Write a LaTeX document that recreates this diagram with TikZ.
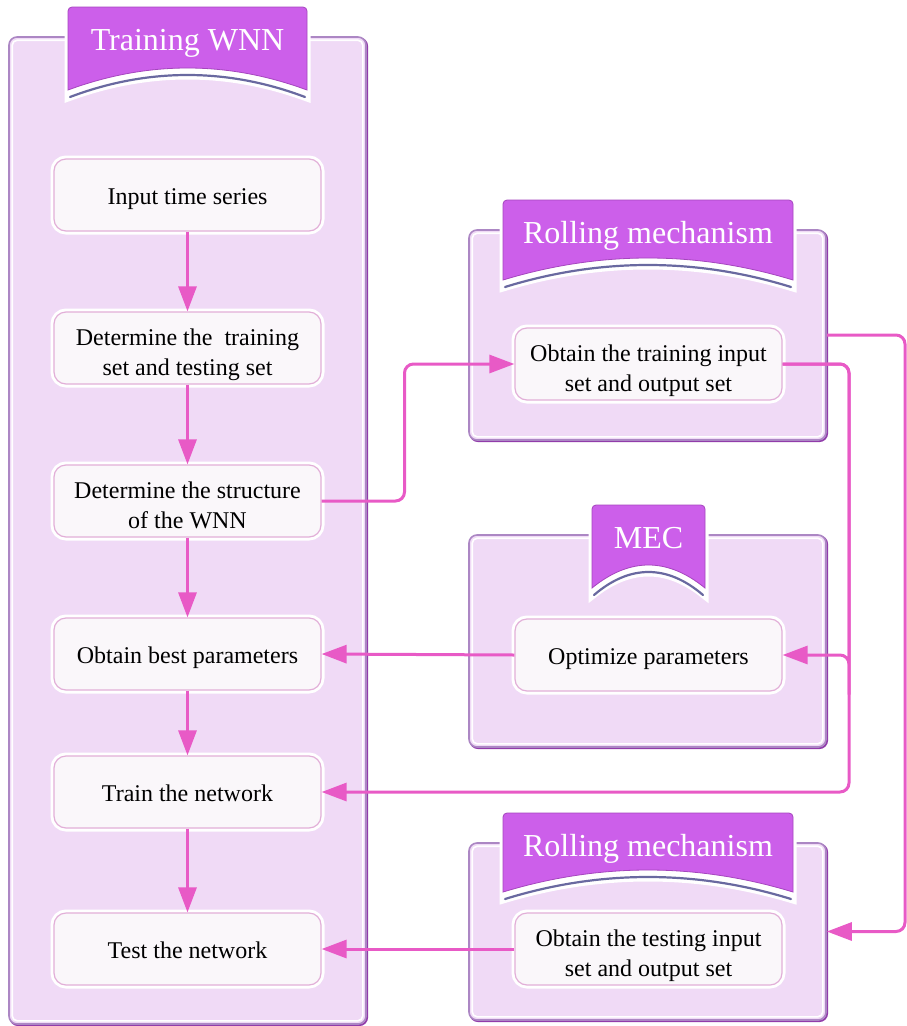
\documentclass[tikz,border=0pt]{standalone}
\usepackage{fontspec}
\setmainfont{Liberation Serif}
\usetikzlibrary{arrows.meta,calc}
\definecolor{pfill}{RGB}{240,218,246}
\definecolor{pborder}{RGB}{172,135,196}
\definecolor{pdark}{RGB}{145,60,170}
\definecolor{bfill}{RGB}{204,95,234}
\definecolor{bedge}{RGB}{165,70,190}
\definecolor{bline}{RGB}{105,105,160}
\definecolor{arr}{RGB}{232,90,198}
\definecolor{nfill}{RGB}{250,247,250}
\definecolor{nborder}{RGB}{226,175,216}
\newcommand\mybanner[7]{%
  \draw[white, line width=7pt, fill=white] (#1,#4+8) [rounded corners=4pt]-- (#1,#3) -- (#2,#3) [sharp corners]-- (#2,#4+8)
     .. controls ({#2-(#2-#1)/3},{#4+8+(#5-#4)*4/3}) and ({#1+(#2-#1)/3},{#4+8+(#5-#4)*4/3}) .. (#1,#4+8) -- cycle;
  \draw[bedge, line width=0.8pt, fill=bfill] (#1,#4) [rounded corners=4pt]-- (#1,#3) -- (#2,#3) [sharp corners]-- (#2,#4)
     .. controls ({#2-(#2-#1)/3},{#4+(#5-#4)*4/3}) and ({#1+(#2-#1)/3},{#4+(#5-#4)*4/3}) .. (#1,#4) -- cycle;
  \draw[bline, line width=2.2pt, line cap=round] (#1+2,#4+7)
     .. controls ({#1+(#2-#1)/3},{#4+7+(#5-#4)*4/3}) and ({#2-(#2-#1)/3},{#4+7+(#5-#4)*4/3}) .. (#2-2,#4+7);
  \node[bannertext] (#7) at ({(#1+#2)/2},#3+31) {#6};
}
% panel: name, center x, center y, height
\newcommand\mypanel[4]{%
  \draw[pdark, line width=1.8pt, rounded corners=8pt] (#2-178.5+1.2,#3-#4/2+1.2) rectangle (#2+178.5+1.2,#3+#4/2+1.2);
  \node[panel, minimum height=#4pt] (#1) at (#2,#3) {};
  \draw[white, line width=1.6pt, rounded corners=5pt] ([shift={(4pt,-4pt)}]#1.north west) rectangle ([shift={(-4pt,4pt)}]#1.south east);
}
\begin{document}
\begin{tikzpicture}[x=1pt,y=-1pt,
  panel/.style={draw=pborder, line width=1.6pt, fill=pfill, rounded corners=8pt, minimum width=357pt, inner sep=0pt},
  box/.style={draw=nborder, line width=1.2pt, fill=nfill, rounded corners=12pt, minimum height=72pt, inner sep=2pt, align=center, text height=19pt, text depth=0pt, font=\fontsize{24}{30}\selectfont, preaction={draw=white, line width=7pt}},
  twoline/.style={text height=55pt},
  lbox/.style={box, minimum width=267pt},
  rbox/.style={box, minimum width=267pt},
  bannertext/.style={text=white, font=\fontsize{32}{36}\selectfont, inner sep=0pt, text height=24pt, text depth=0pt},
  conn/.style={draw=arr, line width=3pt, rounded corners=9pt},
  tip/.style={-{Triangle[length=25pt,width=18pt]}}
]
\useasboundingbox (0,0) rectangle (907,1026);
% panels
\mypanel{pl}{187.5}{530.5}{987}
\mypanel{pr1}{647.5}{335}{210}
\mypanel{pm}{647.5}{641}{212}
\mypanel{pr2}{647.5}{931.5}{177}
% banners
\mybanner{68}{307}{7}{90}{68}{Training WNN}{bl}
\mybanner{503}{793}{200}{280}{258}{Rolling mechanism}{br1}
\mybanner{592}{705}{505}{588}{565}{MEC}{bm}
\mybanner{503}{793}{813}{892}{870}{Rolling mechanism}{br2}
% left nodes
\node[lbox] (n1) at (187.5,195) {Input time series};
\node[lbox, twoline] (n2) at (187.5,348) {Determine the\ \ training\\set and testing set};
\node[lbox, twoline] (n3) at (187.5,501) {Determine the structure\\of the WNN};
\node[lbox] (n4) at (187.5,654) {Obtain best parameters};
\node[lbox] (n5) at (187.5,792) {Train the network};
\node[lbox] (n6) at (187.5,949) {Test the network};
% right nodes
\node[rbox, twoline] (tin) at (648.5,364) {Obtain the training input\\set and output set};
\node[rbox] (opt) at (648.5,655) {Optimize parameters};
\node[rbox, twoline] (tout) at (648.5,949) {Obtain the testing input\\set and output set};
% junction coordinates
\coordinate (c850) at (849,700);
\coordinate (c905) at (905,600);
% connectors
\draw[conn,tip] (n1.south) -- (n2.north);
\draw[conn,tip] (n2.south) -- (n3.north);
\draw[conn,tip] (n3.south) -- (n4.north);
\draw[conn,tip] (n4.south) -- (n5.north);
\draw[conn,tip] (n5.south) -- (n6.north);
\draw[conn,tip] (n3.east) -| ($(n3.east)!0.43!(tin.west)$) |- (tin.west);
\draw[conn,tip] (tin.east) -| (c850) |- (opt.east);
\draw[conn,tip] (tin.east) -| (c850) |- (n5.east);
\draw[conn,tip] (pr1.east) -| (c905) |- (pr2.east);
\draw[conn,tip] (opt.west) -- (n4.east);
\draw[conn,tip] (tout.west) -- (n6.east);
\end{tikzpicture}
\end{document}
